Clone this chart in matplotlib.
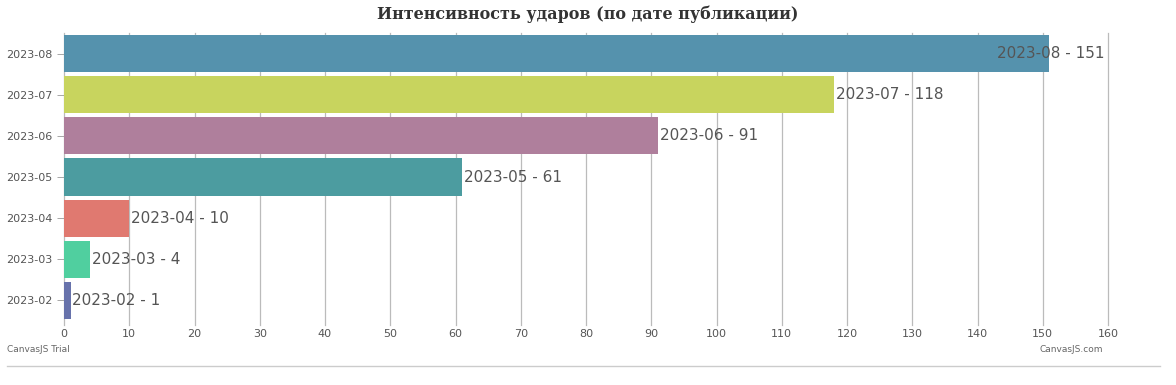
import matplotlib
matplotlib.use("Agg")
import matplotlib.pyplot as plt
from matplotlib.lines import Line2D

# данные
months = ["2023-02", "2023-03", "2023-04", "2023-05", "2023-06", "2023-07", "2023-08"]
counts = [1, 4, 10, 61, 91, 118, 151]
colors = ["#6772AB", "#50CF9F", "#E07970", "#4C9CA0", "#AF7F9C", "#C8D45E", "#5592AD"]

fig = plt.figure(figsize=(11.76, 3.85), dpi=100)
ax = fig.add_axes([64 / 1176, 1 - 321 / 385, 1044 / 1176, 288 / 385])

ax.barh(range(len(months)), counts, height=0.9, color=colors, zorder=2)

ax.set_xlim(0, 160)
ax.set_ylim(-0.5, len(months) - 0.5)
ax.set_xticks(range(0, 161, 10))
ax.set_yticks(range(len(months)))
ax.set_yticklabels(months)
ax.tick_params(axis="both", labelsize=8, colors="#555555", length=5, width=0.6)
ax.tick_params(axis="x", length=0, pad=6)
ax.tick_params(axis="y", color="#999999")
for x in range(0, 161, 10):
    ax.axvline(x, ymin=-0.015, ymax=1, color="#BBBBBB", linewidth=0.9, zorder=0, clip_on=False)
for s in ax.spines.values():
    s.set_visible(False)

for i, (m, c) in enumerate(zip(months, counts)):
    label = f"{m} - {c}"
    if c > 140:
        ax.text(159.4, i, label, ha="right", va="center", fontsize=11, color="#555555", zorder=3)
    else:
        ax.text(c + 0.3, i, label, ha="left", va="center", fontsize=11, color="#555555", zorder=3)

fig.text(0.5, 1 - 14 / 385, "Интенсивность ударов (по дате публикации)", ha="center", va="center",
         fontsize=11.5, fontweight="bold", family="DejaVu Serif", color="#333333")

fig.text(7 / 1176, 1 - 350 / 385, "CanvasJS Trial", fontsize=6.5, color="#666666", va="center")
fig.text(1040 / 1176, 1 - 350 / 385, "CanvasJS.com", fontsize=6.5, color="#666666", va="center")

fig.add_artist(Line2D([7 / 1176, 1160 / 1176], [1 - 366 / 385] * 2, color="#CCCCCC", linewidth=1))

fig.savefig("out.png", dpi=100)
